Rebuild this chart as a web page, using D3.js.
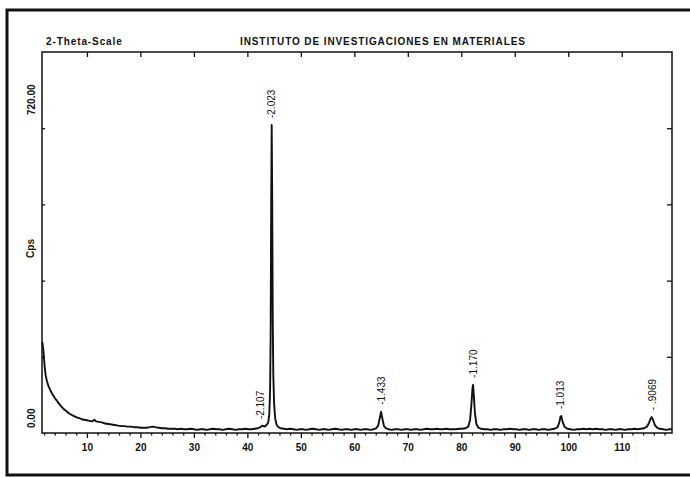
<!DOCTYPE html>
<html>
<head>
<meta charset="utf-8">
<script src="https://cdn.jsdelivr.net/npm/d3@7"></script>
<style>
body { margin: 0; background: #fff; }
svg { display: block; }
text { font-family: "Liberation Sans", Arial, sans-serif; fill: #111; }
</style>
</head>
<body>
<script>
// Scan: 2-theta (deg) and counts per second
const twoTheta = [
  1.65, 1.8, 1.95, 2.1, 2.3, 2.55, 2.8, 3.1, 3.4, 3.7, 4.0, 4.3, 4.6, 4.9, 5.2, 5.5, 5.8, 6.1, 6.4, 6.7,
  7.0, 7.4, 7.8, 8.2, 8.6, 9.0, 9.5, 10.0, 10.5, 11.0, 11.4, 11.7, 12.2, 12.8, 13.4, 14.0, 14.6, 15.2, 15.8, 16.4,
  17.0, 17.6, 18.2, 18.8, 19.4, 20.0, 20.6, 21.2, 21.8, 22.3, 22.8, 23.4, 24.0, 24.6, 25.2, 25.8, 26.4, 27.0, 27.6, 28.2,
  28.8, 29.4, 30.0, 30.6, 31.2, 31.8, 32.4, 33.0, 33.6, 34.2, 34.8, 35.4, 36.0, 36.6, 37.2, 37.8, 38.4, 39.0, 39.6, 40.2,
  40.8, 41.4, 42.0, 42.4, 42.8, 43.2, 43.6, 43.9, 44.1, 44.25, 44.35, 44.45, 44.55, 44.65, 44.75, 44.85, 45.0, 45.2, 45.45, 45.8,
  46.2, 46.8, 47.4, 48.0, 48.6, 49.2, 49.8, 50.4, 51.0, 51.6, 52.2, 52.8, 53.4, 54.0, 54.6, 55.2, 55.8, 56.4, 57.0, 57.6,
  58.2, 58.8, 59.4, 60.0, 60.6, 61.2, 61.8, 62.4, 63.0, 63.6, 64.1, 64.45, 64.75, 65.0, 65.25, 65.55, 65.9, 66.4, 67.0, 67.6,
  68.2, 68.8, 69.4, 70.0, 70.6, 71.2, 71.8, 72.4, 73.0, 73.6, 74.2, 74.8, 75.4, 76.0, 76.6, 77.2, 77.8, 78.4, 79.0, 79.6,
  80.2, 80.8, 81.3, 81.65, 81.9, 82.1, 82.2, 82.35, 82.55, 82.8, 83.2, 83.7, 84.3, 84.9, 85.5, 86.1, 86.7, 87.3, 87.9, 88.5,
  89.1, 89.7, 90.3, 90.9, 91.5, 92.1, 92.7, 93.3, 93.9, 94.5, 95.1, 95.7, 96.3, 96.9, 97.5, 98.0, 98.3, 98.55, 98.7, 98.95,
  99.3, 99.8, 100.4, 101.0, 101.6, 102.2, 102.8, 103.4, 104.0, 104.6, 105.2, 105.8, 106.4, 107.0, 107.6, 108.2, 108.8, 109.4, 110.0, 110.6,
  111.2, 111.8, 112.4, 113.0, 113.6, 114.2, 114.7, 115.1, 115.4, 115.6, 115.85, 116.2, 116.6, 117.1, 117.7, 118.3, 118.9, 119.4
];
const cps = [
  172, 162, 145, 125, 108, 97, 89, 82, 76, 71, 66, 62, 58, 54, 50, 47, 44, 42, 39, 37,
  35, 33, 31, 29, 28, 26, 25, 24, 23, 22, 25, 22, 21, 20, 18, 17, 16, 15, 14, 13,
  13, 12, 12, 11, 11, 10, 10, 10, 11, 12, 11, 10, 9, 9, 8, 8, 8, 7, 8, 7,
  7, 8, 7, 6, 7, 7, 6, 7, 8, 7, 7, 6, 7, 8, 7, 6, 7, 7, 8, 7,
  7, 8, 9, 11, 14, 12, 15, 20, 35, 80, 180, 420, 582, 430, 210, 110, 55, 28, 16, 11,
  9, 8, 7, 8, 7, 6, 7, 7, 6, 7, 8, 7, 6, 7, 7, 6, 7, 8, 7, 6,
  7, 7, 6, 7, 7, 6, 7, 7, 6, 7, 9, 14, 28, 40, 27, 13, 9, 7, 6, 7,
  7, 6, 7, 7, 6, 7, 7, 6, 7, 8, 7, 7, 8, 7, 7, 8, 7, 7, 7, 8,
  8, 9, 12, 25, 55, 85, 91, 70, 38, 18, 10, 8, 7, 7, 6, 7, 7, 6, 7, 7,
  8, 7, 7, 6, 7, 7, 6, 7, 7, 6, 7, 7, 6, 7, 8, 11, 19, 31, 32, 21,
  12, 8, 7, 6, 7, 7, 8, 7, 8, 7, 8, 7, 7, 6, 7, 7, 6, 7, 7, 6,
  7, 7, 8, 7, 8, 9, 12, 19, 27, 30, 25, 15, 10, 8, 7, 6, 7, 7
];

// d-spacing labels over the peaks
const peakTheta = [42.4, 44.55, 65.0, 82.2, 98.6, 115.7];
const peakTop = [13, 582, 40, 91, 32, 30];
const peakLabel = ["-2.107", "-2.023", "-1.433", "-1.170", "-1.013", "- .9069"];

const xTicks = [10, 20, 30, 40, 50, 60, 70, 80, 90, 100, 110];
const xMinorTicks = d3.range(2, 120, 2).filter(d => d % 10 !== 0);
const yTicks = [0, 144, 288, 432, 576, 720];
const yLabelValues = [0, 720];

const title = "INSTITUTO DE INVESTIGACIONES EN MATERIALES";
const scaleName = "2-Theta-Scale";
const yName = "Cps";

const W = 690, H = 478;
const svg = d3.select("body").append("svg")
    .attr("width", W)
    .attr("height", H);

// outer frame of the printout (right edge runs off the page)
svg.append("rect")
    .attr("x", 7).attr("y", 10)
    .attr("width", 700).attr("height", 465)
    .attr("fill", "none")
    .attr("stroke", "#111")
    .attr("stroke-width", 3);

const x = d3.scaleLinear().domain([1.6, 119.4]).range([42, 672]);
const y = d3.scaleLinear().domain([0, 720]).range([433, 52]);

// plot box
svg.append("rect")
    .attr("x", x.range()[0]).attr("y", y.range()[1])
    .attr("width", x.range()[1] - x.range()[0])
    .attr("height", y.range()[0] - y.range()[1])
    .attr("fill", "none")
    .attr("stroke", "#111")
    .attr("stroke-width", 1.5);

function plainAxis(g) {
    g.select(".domain").remove();
    g.selectAll(".tick line").attr("stroke", "#111").attr("stroke-width", 1.3);
}

// bottom axis with labels
svg.append("g")
    .attr("transform", `translate(0,${y(0)})`)
    .call(d3.axisBottom(x).tickValues(xTicks).tickSize(5).tickPadding(6).tickFormat(d3.format("d")))
    .call(plainAxis)
    .call(g => g.selectAll(".tick text")
        .attr("font-size", 10).attr("font-weight", "bold")
        .style("font-family", "'Liberation Sans', Arial, sans-serif"));

// bottom minor ticks
svg.append("g")
    .attr("transform", `translate(0,${y(0)})`)
    .call(d3.axisBottom(x).tickValues(xMinorTicks).tickSize(2.5).tickFormat(""))
    .call(plainAxis);

// top axis ticks pointing in
svg.append("g")
    .attr("transform", `translate(0,${y(720)})`)
    .call(d3.axisTop(x).tickValues(xTicks).tickSize(-5).tickFormat(""))
    .call(plainAxis);

// right and left axis ticks pointing in
svg.append("g")
    .attr("transform", `translate(${x(119.4)},0)`)
    .call(d3.axisRight(y).tickValues(yTicks.slice(1, -1)).tickSize(-5).tickFormat(""))
    .call(plainAxis);
svg.append("g")
    .attr("transform", `translate(${x(1.6)},0)`)
    .call(d3.axisLeft(y).tickValues(yTicks.slice(1, -1)).tickSize(-3).tickFormat(""))
    .call(plainAxis);

// y value labels, rotated like the printout
const fmt = d3.format(".2f");
svg.selectAll("text.ylab")
    .data(yLabelValues)
    .enter().append("text")
    .attr("class", "ylab")
    .attr("transform", d => d === 0
        ? `translate(35,${y(d) - 5}) rotate(-90)`
        : `translate(35,${y(d) + 63}) rotate(-90)`)
    .attr("text-anchor", "start")
    .attr("font-size", 10)
    .attr("font-weight", "bold")
    .text(fmt);

svg.append("text")
    .attr("transform", `translate(34,${y(360) + 6}) rotate(-90)`)
    .attr("text-anchor", "middle")
    .attr("font-size", 10)
    .attr("font-weight", "bold")
    .text(yName);

// headings
svg.append("text")
    .attr("x", 46).attr("y", 45)
    .attr("font-size", 10).attr("font-weight", "bold")
    .attr("letter-spacing", 0.9)
    .text(scaleName);
svg.append("text")
    .attr("x", 240).attr("y", 45)
    .attr("font-size", 10).attr("font-weight", "bold")
    .attr("letter-spacing", 0.9)
    .text(title);

// the scan
const scan = twoTheta.map((t, i) => [t, cps[i]]);
const line = d3.line().x(d => x(d[0])).y(d => y(d[1]));
svg.append("path")
    .datum(scan)
    .attr("d", line)
    .attr("fill", "none")
    .attr("stroke", "#111")
    .attr("stroke-width", 1.9)
    .attr("stroke-linejoin", "round");

// peak labels
svg.selectAll("text.peak")
    .data(peakTheta)
    .enter().append("text")
    .attr("class", "peak")
    .attr("transform", (d, i) => `translate(${x(d) + 3.5},${y(peakTop[i]) - 7}) rotate(-90)`)
    .attr("text-anchor", "start")
    .attr("font-size", 10)
    .text((d, i) => peakLabel[i]);
</script>
</body>
</html>
